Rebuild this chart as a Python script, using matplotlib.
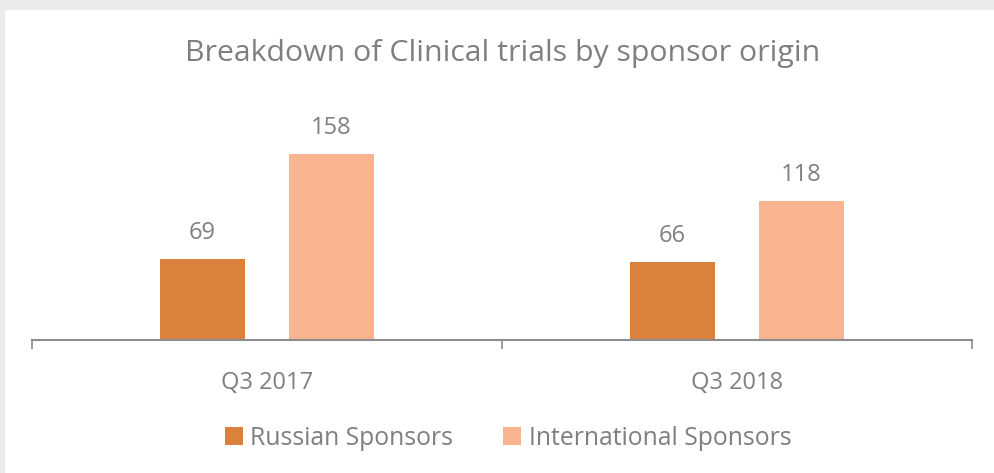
import matplotlib
matplotlib.use("Agg")
import matplotlib.pyplot as plt
from matplotlib.patches import Rectangle
import numpy as np

plt.rcParams['font.family'] = ['Open Sans', 'DejaVu Sans']

periods = ["Q3 2017", "Q3 2018"]
russian = [69, 66]
international = [158, 118]
series_names = ["Russian Sponsors", "International Sponsors"]

text_grey = "#7f7f7f"
c_russian = "#DA823D"
c_intl = "#F8B590"

fig = plt.figure(figsize=(9.94, 4.73), dpi=100)
fig.patch.set_facecolor("white")

# light grey frame strips on the top and left edges
fig.patches.append(Rectangle((0, 0), 4 / 994, 1, transform=fig.transFigure,
                             color="#ebebeb", zorder=0))
fig.patches.append(Rectangle((0, 1 - 9 / 473), 1, 9 / 473, transform=fig.transFigure,
                             color="#ebebeb", zorder=0))

ax = fig.add_axes([32 / 994, 133 / 473, 940 / 994, 212 / 473])

x = np.arange(len(periods))
width = 0.181
off = 0.137
b1 = ax.bar(x - off, russian, width, color=c_russian, label=series_names[0])
b2 = ax.bar(x + off, international, width, color=c_intl, label=series_names[1])

for bars in (b1, b2):
    for rect in bars:
        ax.annotate(f"{rect.get_height():.0f}",
                    (rect.get_x() + rect.get_width() / 2, rect.get_height()),
                    xytext=(0, 10), textcoords="offset points",
                    ha="center", va="bottom", fontsize=17, color=text_grey)

ax.set_xlim(-0.5, 1.5)
ax.set_ylim(0, 180)
ax.set_xticks(x)
ax.set_xticklabels(periods, fontsize=17, color=text_grey)
ax.set_xticks([-0.5, 0.5, 1.5], minor=True)
ax.tick_params(axis="x", which="major", length=0, pad=22)
ax.tick_params(axis="x", which="minor", length=6.5, width=1.2, color="#8c8c8c")
ax.set_yticks([])
for s in ("top", "right", "left"):
    ax.spines[s].set_visible(False)
ax.spines["bottom"].set_color("#8c8c8c")
ax.spines["bottom"].set_linewidth(1.5)

fig.text(503 / 994, 1 - 54 / 473, "Breakdown of Clinical trials by sponsor origin",
         ha="center", va="center", fontsize=21.8, color=text_grey)

fig.legend(handles=[b1, b2], loc="center", bbox_to_anchor=(508 / 994, 1 - 438 / 473),
           ncol=2, frameon=False, fontsize=17.8, labelcolor=text_grey,
           handlelength=0.75, handleheight=0.75, handletextpad=0.3, columnspacing=2.0)

fig.savefig("out.png", dpi=100)
